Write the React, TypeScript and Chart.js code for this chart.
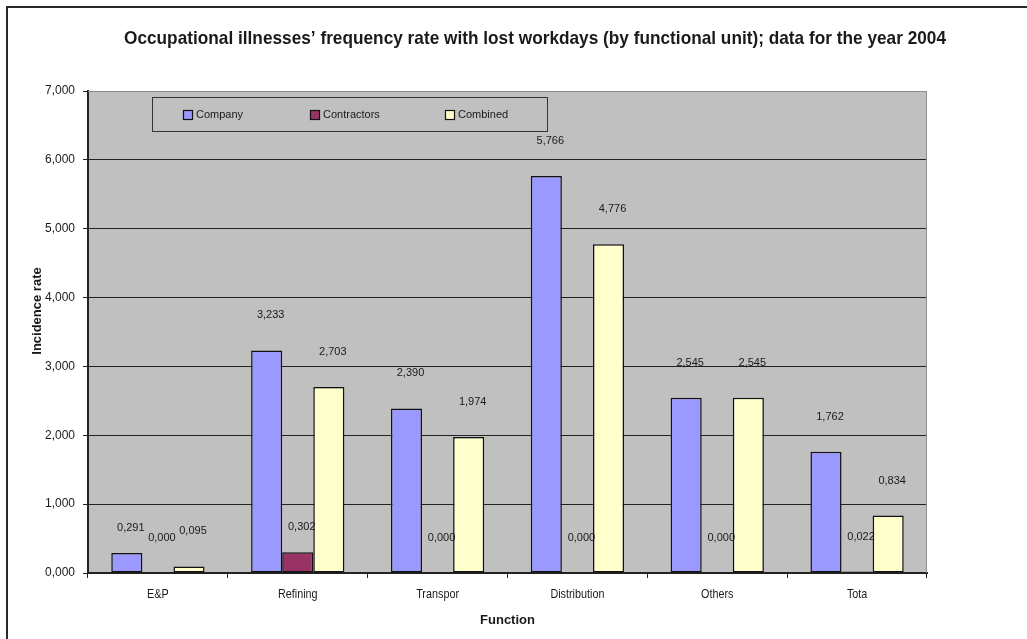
import React, { useEffect, useRef } from "react";
import { Chart, registerables } from "chart.js";

Chart.register(...registerables);

const categories = ["E&P", "Refining", "Transpor", "Distribution", "Others", "Tota"];
const seriesNames = ["Company", "Contractors", "Combined"];
const company = [0.291, 3.233, 2.39, 5.766, 2.545, 1.762];
const contractors = [0.0, 0.302, 0.0, 0.0, 0.0, 0.022];
const combined = [0.095, 2.703, 1.974, 4.776, 2.545, 0.834];
const yTicks = [0, 1, 2, 3, 4, 5, 6, 7];
const chartTitle =
  "Occupational illnesses’ frequency rate with lost workdays (by functional unit); data for the year 2004";
const xTitle = "Function";
const yTitle = "Incidence rate";

const seriesColors = ["#9999FF", "#993366", "#FFFFCC"];
const FONT = '"Liberation Sans", Arial, sans-serif';
const TEXT = "#1a1a1a";
// extra vertical lift (px) for a few labels, keyed "series-index"
const labelNudge: Record<string, number> = { "0-0": 10, "1-1": 10 };

const fmt = (v: number) => v.toFixed(3).replace(".", ",");

const decor = {
  id: "decor",
  beforeDraw(chart: any) {
    const { ctx, chartArea: a } = chart;
    ctx.save();
    ctx.fillStyle = "#ffffff";
    ctx.fillRect(0, 0, chart.width, chart.height);
    ctx.fillStyle = "#C0C0C0";
    ctx.fillRect(a.left, a.top, a.right - a.left, a.bottom - a.top);
    ctx.strokeStyle = "#2a2a2a";
    ctx.lineWidth = 2;
    ctx.beginPath();
    ctx.moveTo(7, chart.height + 2);
    ctx.lineTo(7, 7);
    ctx.lineTo(chart.width + 2, 7);
    ctx.stroke();
    ctx.restore();
  },
  beforeDatasetsDraw(chart: any) {
    const { ctx, chartArea: a } = chart;
    ctx.save();
    ctx.strokeStyle = "#8c8c8c";
    ctx.lineWidth = 1;
    ctx.beginPath();
    ctx.moveTo(a.left, a.top + 0.5);
    ctx.lineTo(a.right - 0.5, a.top + 0.5);
    ctx.lineTo(a.right - 0.5, a.bottom);
    ctx.stroke();
    ctx.restore();
  },
  afterDraw(chart: any) {
    const { ctx, chartArea: a } = chart;
    ctx.save();
    ctx.fillStyle = TEXT;
    ctx.textAlign = "center";
    ctx.textBaseline = "middle";

    // main title, fitted to the reference width
    ctx.font = `bold 17px ${FONT}`;
    const w = ctx.measureText(chartTitle).width;
    ctx.save();
    ctx.translate(535, 39);
    ctx.scale(822 / w, 1.12);
    ctx.fillText(chartTitle, 0, 0);
    ctx.restore();

    // x category labels (narrow face), placed by the x scale
    const xs = chart.scales.x;
    ctx.font = `13.5px ${FONT}`;
    xs.ticks.forEach((t: any, i: number) => {
      const px = xs.getPixelForTick(i);
      ctx.save();
      ctx.translate(px, 594);
      ctx.scale(0.8, 1);
      ctx.fillText(String(chart.data.labels[i]), 0, 0);
      ctx.restore();
    });

    // y title
    ctx.save();
    ctx.translate(37, 311);
    ctx.rotate(-Math.PI / 2);
    ctx.font = `bold 13px ${FONT}`;
    ctx.fillText(yTitle, 0, 0);
    ctx.restore();

    // x title
    ctx.font = `bold 13px ${FONT}`;
    ctx.fillText(xTitle, (a.left + a.right) / 2, 620);

    // legend box
    ctx.fillStyle = "#C0C0C0";
    ctx.fillRect(152, 97, 395, 34);
    ctx.strokeStyle = "#333";
    ctx.lineWidth = 1;
    ctx.strokeRect(152.5, 97.5, 395, 34);
    const legendX = [183, 310, 445];
    ctx.font = `11px ${FONT}`;
    ctx.textAlign = "left";
    chart.data.datasets.forEach((ds: any, i: number) => {
      const x = legendX[i];
      ctx.fillStyle = ds.backgroundColor;
      ctx.fillRect(x, 110, 9, 9);
      ctx.strokeStyle = "#111";
      ctx.lineWidth = 1.2;
      ctx.strokeRect(x + 0.5, 110.5, 9, 9);
      ctx.fillStyle = TEXT;
      ctx.fillText(ds.label, x + 13, 115);
    });

    // data labels
    ctx.font = `11px ${FONT}`;
    ctx.textAlign = "center";
    ctx.fillStyle = TEXT;
    chart.data.datasets.forEach((ds: any, di: number) => {
      const meta = chart.getDatasetMeta(di);
      meta.data.forEach((el: any, i: number) => {
        const nudge = labelNudge[`${di}-${i}`] || 0;
        ctx.fillText(fmt(ds.data[i]), el.x + 4, el.y - 35 + nudge);
      });
    });
    ctx.restore();
  },
};

export default function App() {
  const ref = useRef<HTMLCanvasElement | null>(null);
  useEffect(() => {
    if (!ref.current) return;
    const series = [company, contractors, combined];
    const chart = new Chart(ref.current, {
      type: "bar",
      data: {
        labels: categories,
        datasets: series.map((d, i) => ({
          label: seriesNames[i],
          data: d,
          backgroundColor: seriesColors[i],
          borderColor: "#111",
          borderWidth: 1.5,
          borderSkipped: false,
          categoryPercentage: 0.667,
          barPercentage: 1,
        })),
      },
      options: {
        animation: false,
        responsive: false,
        devicePixelRatio: 1,
        layout: { padding: { top: 91, right: 100, left: 0, bottom: 0 } },
        plugins: {
          legend: { display: false },
          tooltip: { enabled: false },
          title: { display: false },
        },
        scales: {
          x: {
            grid: {
              display: true,
              drawOnChartArea: false,
              drawTicks: true,
              tickLength: 5,
              color: "#222",
              offset: true,
            },
            border: { color: "#222", width: 2 },
            ticks: { display: false },
            afterFit: (s: any) => {
              s.height = 66;
            },
          },
          y: {
            min: 0,
            max: 7,
            afterBuildTicks: (s: any) => {
              s.ticks = yTicks.map((v) => ({ value: v }));
            },
            ticks: {
              color: TEXT,
              font: { family: FONT, size: 12 },
              padding: 8,
              callback: (v: any) => fmt(Number(v)),
            },
            grid: {
              color: (c: any) => (c.tick && c.tick.value === 7 ? "#8c8c8c" : "#222"),
              tickColor: "#222",
              tickLength: 5,
              lineWidth: 1,
            },
            border: { color: "#222", width: 2 },
            afterFit: (s: any) => {
              s.width = 88;
            },
          },
        },
      },
      plugins: [decor],
    });
    return () => chart.destroy();
  }, []);
  return (
    <div style={{ position: "fixed", left: 0, top: 0, width: 1027, height: 639, background: "#fff" }}>
      <canvas ref={ref} width={1027} height={639} style={{ width: 1027, height: 639 }} />
    </div>
  );
}
